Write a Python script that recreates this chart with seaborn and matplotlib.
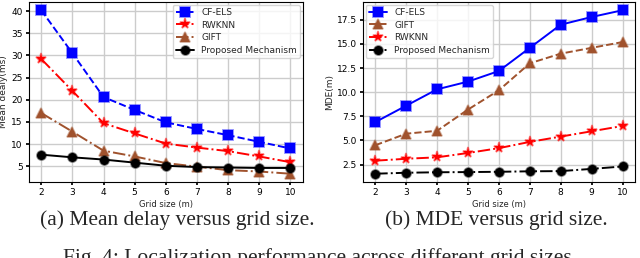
import matplotlib
matplotlib.use("Agg")
import matplotlib.pyplot as plt
import seaborn as sns
import pandas as pd

# grid sizes (m)
grid_sizes = [2, 3, 4, 5, 6, 7, 8, 9, 10]

# (a) mean delay (ms)
delay_cfels = [40.2, 30.5, 20.6, 17.7, 14.9, 13.4, 12.0, 10.5, 9.0]
delay_rwknn = [29.2, 22.0, 14.7, 12.4, 10.1, 9.2, 8.4, 7.2, 5.9]
delay_gift = [17.0, 12.8, 8.5, 7.2, 5.7, 4.9, 4.1, 3.8, 3.3]
delay_prop = [7.6, 7.0, 6.5, 5.8, 5.1, 4.8, 4.7, 4.6, 4.6]

# (b) MDE (m)
mde_cfels = [6.9, 8.6, 10.3, 11.1, 12.2, 14.6, 17.0, 17.8, 18.5]
mde_gift = [4.5, 5.7, 6.0, 8.2, 10.2, 13.0, 14.0, 14.6, 15.2]
mde_rwknn = [2.9, 3.1, 3.25, 3.7, 4.2, 4.85, 5.4, 5.95, 6.5]
mde_prop = [1.55, 1.65, 1.7, 1.72, 1.75, 1.8, 1.82, 2.05, 2.3]

sns.set_theme(style="whitegrid", rc={
    "axes.edgecolor": "black",
    "axes.linewidth": 0.8,
    "grid.color": "#cccccc",
    "grid.linewidth": 1.0,
    "xtick.bottom": True,
    "ytick.left": True,
    "xtick.major.size": 2.5,
    "ytick.major.size": 2.5,
    "xtick.color": "black",
    "ytick.color": "black",
    "xtick.labelsize": 6.5,
    "ytick.labelsize": 6.5,
    "axes.labelsize": 6.5,
})
plt.rcParams["font.family"] = ["DejaVu Sans"]

styles = {
    "CF-ELS": dict(color="blue", marker="s", ms=7),
    "RWKNN": dict(color="red", marker="*", ms=8),
    "GIFT": dict(color="#a0522d", marker="^", ms=7),
    "Proposed Mechanism": dict(color="black", marker="o", ms=6.5),
}


def draw(ax, series, dashes):
    for name, vals in series:
        df = pd.DataFrame({"x": grid_sizes, "y": vals})
        st = styles[name]
        sns.lineplot(data=df, x="x", y="y", ax=ax, color=st["color"],
                     marker=st["marker"], markersize=st["ms"],
                     markeredgewidth=1.3,
                     markeredgecolor=matplotlib.colors.to_rgba(st["color"], 0.45),
                     linestyle=dashes[name], linewidth=1.4, label=name)


fig = plt.figure(figsize=(6.4, 2.58), dpi=100)
ax1 = fig.add_axes([0.045, 0.295, 0.428, 0.697])
ax2 = fig.add_axes([0.567, 0.295, 0.425, 0.697])

draw(ax1, [("CF-ELS", delay_cfels), ("RWKNN", delay_rwknn),
           ("GIFT", delay_gift), ("Proposed Mechanism", delay_prop)],
     {"CF-ELS": "--", "RWKNN": "-.", "GIFT": "-.", "Proposed Mechanism": "-"})
ax1.set_xlabel("Grid size (m)", labelpad=2, fontsize=6)
ax1.set_ylabel("Mean dealy(ms)", labelpad=2)
ax1.set_yticks([5, 10, 15, 20, 25, 30, 35, 40])

draw(ax2, [("CF-ELS", mde_cfels), ("GIFT", mde_gift),
           ("RWKNN", mde_rwknn), ("Proposed Mechanism", mde_prop)],
     {"CF-ELS": "-", "GIFT": "--", "RWKNN": "-.", "Proposed Mechanism": "-."})
ax2.set_xlabel("Grid size (m)", labelpad=2, fontsize=6)
ax2.set_ylabel("MDE(m)", labelpad=2)
ax2.set_yticks([2.5, 5.0, 7.5, 10.0, 12.5, 15.0, 17.5])

for ax, loc in ((ax1, "upper right"), (ax2, "upper left")):
    ax.set_xticks(grid_sizes)
    ax.tick_params(pad=2)
    ax.legend(loc=loc, fontsize=6.5, frameon=True, edgecolor="#cccccc",
              borderpad=0.35, labelspacing=0.4, handlelength=2.0,
              borderaxespad=0.3)

serif = ["Liberation Serif", "DejaVu Serif"]
fig.text(0.277, 0.145, "(a) Mean delay versus grid size.", ha="center",
         va="center", fontsize=15.5, family=serif)
fig.text(0.775, 0.145, "(b) MDE versus grid size.", ha="center",
         va="center", fontsize=15.5, family=serif)
fig.text(0.5, 0.0, "Fig. 4: Localization performance across different grid sizes.",
         ha="center", va="center", fontsize=15.5, family=serif)

fig.savefig("out.png", dpi=100)
